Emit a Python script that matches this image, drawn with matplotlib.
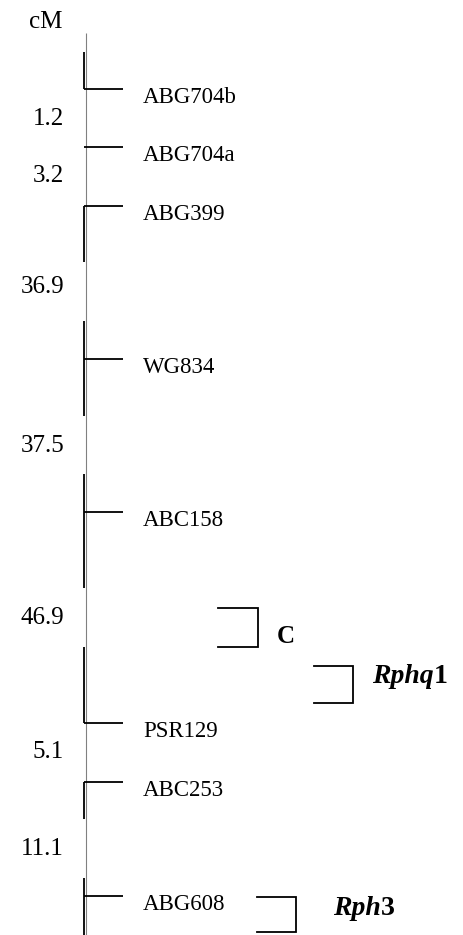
import matplotlib.pyplot as plt

plt.rcParams['font.family'] = ['Liberation Serif', 'DejaVu Serif']

# markers and the row (pixel) where each tick sits
markers = ['ABG704b', 'ABG704a', 'ABG399', 'WG834', 'ABC158', 'PSR129', 'ABC253', 'ABG608']
marker_y = [89, 147, 206, 359, 512, 723, 782, 896]

# black bars drawn beside the chromosome (start, end)
bars = [(52, 89), (206, 262), (321, 416), (474, 588), (647, 723), (782, 819), (878, 940)]

# interval distances (cM) and their baselines
intervals = ['1.2', '3.2', '36.9', '37.5', '46.9', '5.1', '11.1']
interval_y = [125, 182, 293, 452, 624, 758, 855]

# QTL / gene brackets: label, x0, x1, ytop, ybottom, text x, text baseline
brackets = [
    ('C', 218, 258, 608, 647, 277, 643),
    ('Rphq1', 314, 353, 666, 703, 372, 683),
    ('Rph3', 257, 296, 897, 932, 333, 915),
]

W, H = 463, 935
fig = plt.figure(figsize=(W / 100, H / 100), dpi=100)
ax = fig.add_axes([0, 0, 1, 1])
ax.set_xlim(0, W)
ax.set_ylim(H, 0)
ax.axis('off')

# chromosome line
ax.plot([86, 86], [33, H + 5], color='#808080', lw=0.8, solid_capstyle='butt')

for y0, y1 in bars:
    ax.plot([84, 84], [y0, y1], color='black', lw=1.3, solid_capstyle='butt')

for name, y in zip(markers, marker_y):
    ax.plot([84, 123], [y, y], color='black', lw=1.3, solid_capstyle='butt')
    ax.text(143, y + 14, name, fontsize=16.5, va='baseline', ha='left')

ax.text(62, 28, 'cM', fontsize=18, va='baseline', ha='right')
for lab, y in zip(intervals, interval_y):
    ax.text(64, y, lab, fontsize=18, va='baseline', ha='right')

for lab, x0, x1, yt, yb, tx, ty in brackets:
    ax.plot([x0, x1, x1, x0], [yt, yt, yb, yb], color='black', lw=1.3,
            solid_joinstyle='miter')
    if lab == 'C':
        ax.text(tx, ty, 'C', fontsize=18, fontweight='bold', va='baseline', ha='left')
    else:
        base, num = lab[:-1], lab[-1]
        t = ax.text(tx, ty, base, fontsize=20, fontweight='bold', style='italic',
                    va='baseline', ha='left')
        fig.canvas.draw()
        bb = t.get_window_extent()
        x_end = ax.transData.inverted().transform((bb.x1, bb.y0))[0]
        ax.text(x_end, ty, num, fontsize=20, fontweight='bold', va='baseline', ha='left')

fig.savefig('out.png', dpi=100)
